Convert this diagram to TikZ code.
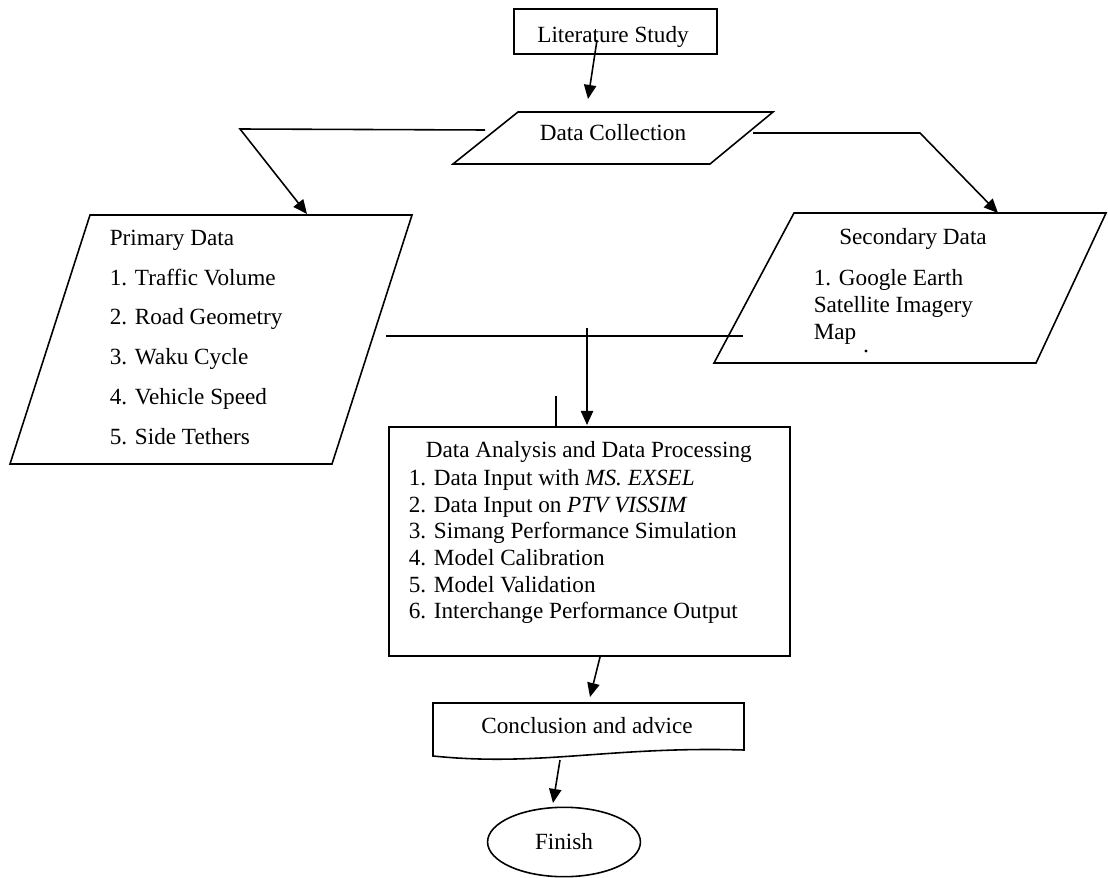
\documentclass[tikz,border=0pt]{standalone}
\usepackage{fontspec}
\setmainfont{Liberation Serif}
\usetikzlibrary{arrows, arrows.meta, shapes.geometric, positioning, calc}

\tikzset{
  txt/.style={font=\fontsize{13.2}{16}\selectfont, inner sep=0pt},
  flow/.style={line width=0.9pt},
  tip/.style={flow, -{Triangle[length=8pt,width=7pt]}}
}

\begin{document}
\begin{tikzpicture}[x=0.02cm, y=-0.02cm, line width=0.9pt]
      \useasboundingbox (0,0) rectangle (1108,878);

      \draw[flow] (514,9) rectangle (717,54);
      \node[txt, anchor=base] (lit) at (613,43) {Literature Study};

      \draw[flow] (453,164) -- (710,164) -- (773,112) -- (518,112) -- cycle;
      \node[txt, anchor=base] (dc) at (613,141) {Data Collection};

      \draw[flow] (90,215) -- (412,215) -- (332,464) -- (10,464) -- cycle;
      \node[txt, anchor=north west, align=left, font=\fontsize{13.2}{22.7}\selectfont] (prim) at (109,229)
            {Primary Data\\1. Traffic Volume\\2. Road Geometry\\3. Waku Cycle\\4. Vehicle Speed\\5. Side Tethers};

      \draw[flow] (794,213) -- (1106,213) -- (1036,363) -- (714,363) -- cycle;
      \node[txt, anchor=base] (sec) at (913,245) {Secondary Data};
      \node[txt, anchor=north west, align=left, font=\fontsize{13.2}{15.3}\selectfont] (seclist) at (813,269)
            {1. Google Earth\\Satellite Imagery\\Map};
      \fill (866,351) circle (0.9pt);

      \draw[flow] (389,427) rectangle (790,656);
      \node[txt, anchor=base west] (ana) at (425,457) {Data Analysis and Data Processing};
      \node[txt, anchor=north west, align=left, font=\fontsize{13.2}{15.1}\selectfont] (analist) at (408,469)
            {1. Data Input with \textit{MS. EXSEL}\\2. Data Input on \textit{PTV VISSIM}\\3. Simang Performance Simulation\\4. Model Calibration\\5. Model Validation\\6. Interchange Performance Output};

      \draw[flow] (433,703) -- (744,703) -- (744,750)
            .. controls (610,746) and (540,767) .. (433,756) -- cycle;
      \node[txt, anchor=base] (concl) at (587,733) {Conclusion and advice};

      \node[draw, flow, ellipse, minimum width=87pt, minimum height=39.5pt, inner sep=0pt, font=\fontsize{13.2}{16}\selectfont] (fin) at (564,842) {Finish};

      \coordinate (litout) at (597,40);
      \coordinate (dcin) at (588,99);
      \coordinate (dcl) at (485,130);
      \coordinate (dcll) at (240,129);
      \coordinate (primin) at (307,214);
      \coordinate (dcr) at (753,133);
      \coordinate (dcrr) at (920,133);
      \coordinate (secin) at (998,213);
      \coordinate (mergel) at (386,336);
      \coordinate (merger) at (743,336);
      \coordinate (mergetop) at (587,328);
      \coordinate (anain) at (587,425);
      \coordinate (ticktop) at (556,396);
      \coordinate (tickbot) at (556,426);
      \coordinate (anaout) at (600,657);
      \coordinate (conclin) at (590,697);
      \coordinate (conclout) at (560,760);
      \coordinate (finin) at (553,803);

      \draw[tip] (litout) -- (dcin);
      \draw[tip] (dcl) -- (dcll) -- (primin);
      \draw[tip] (dcr) -- (dcrr) -- (secin);
      \draw[flow] (mergel) -- (merger);
      \draw[tip] (mergetop) -- (anain);
      \draw[flow] (ticktop) -- (tickbot);
      \draw[tip] (anaout) -- (conclin);
      \draw[tip] (conclout) -- (finin);

\end{tikzpicture}
\end{document}
